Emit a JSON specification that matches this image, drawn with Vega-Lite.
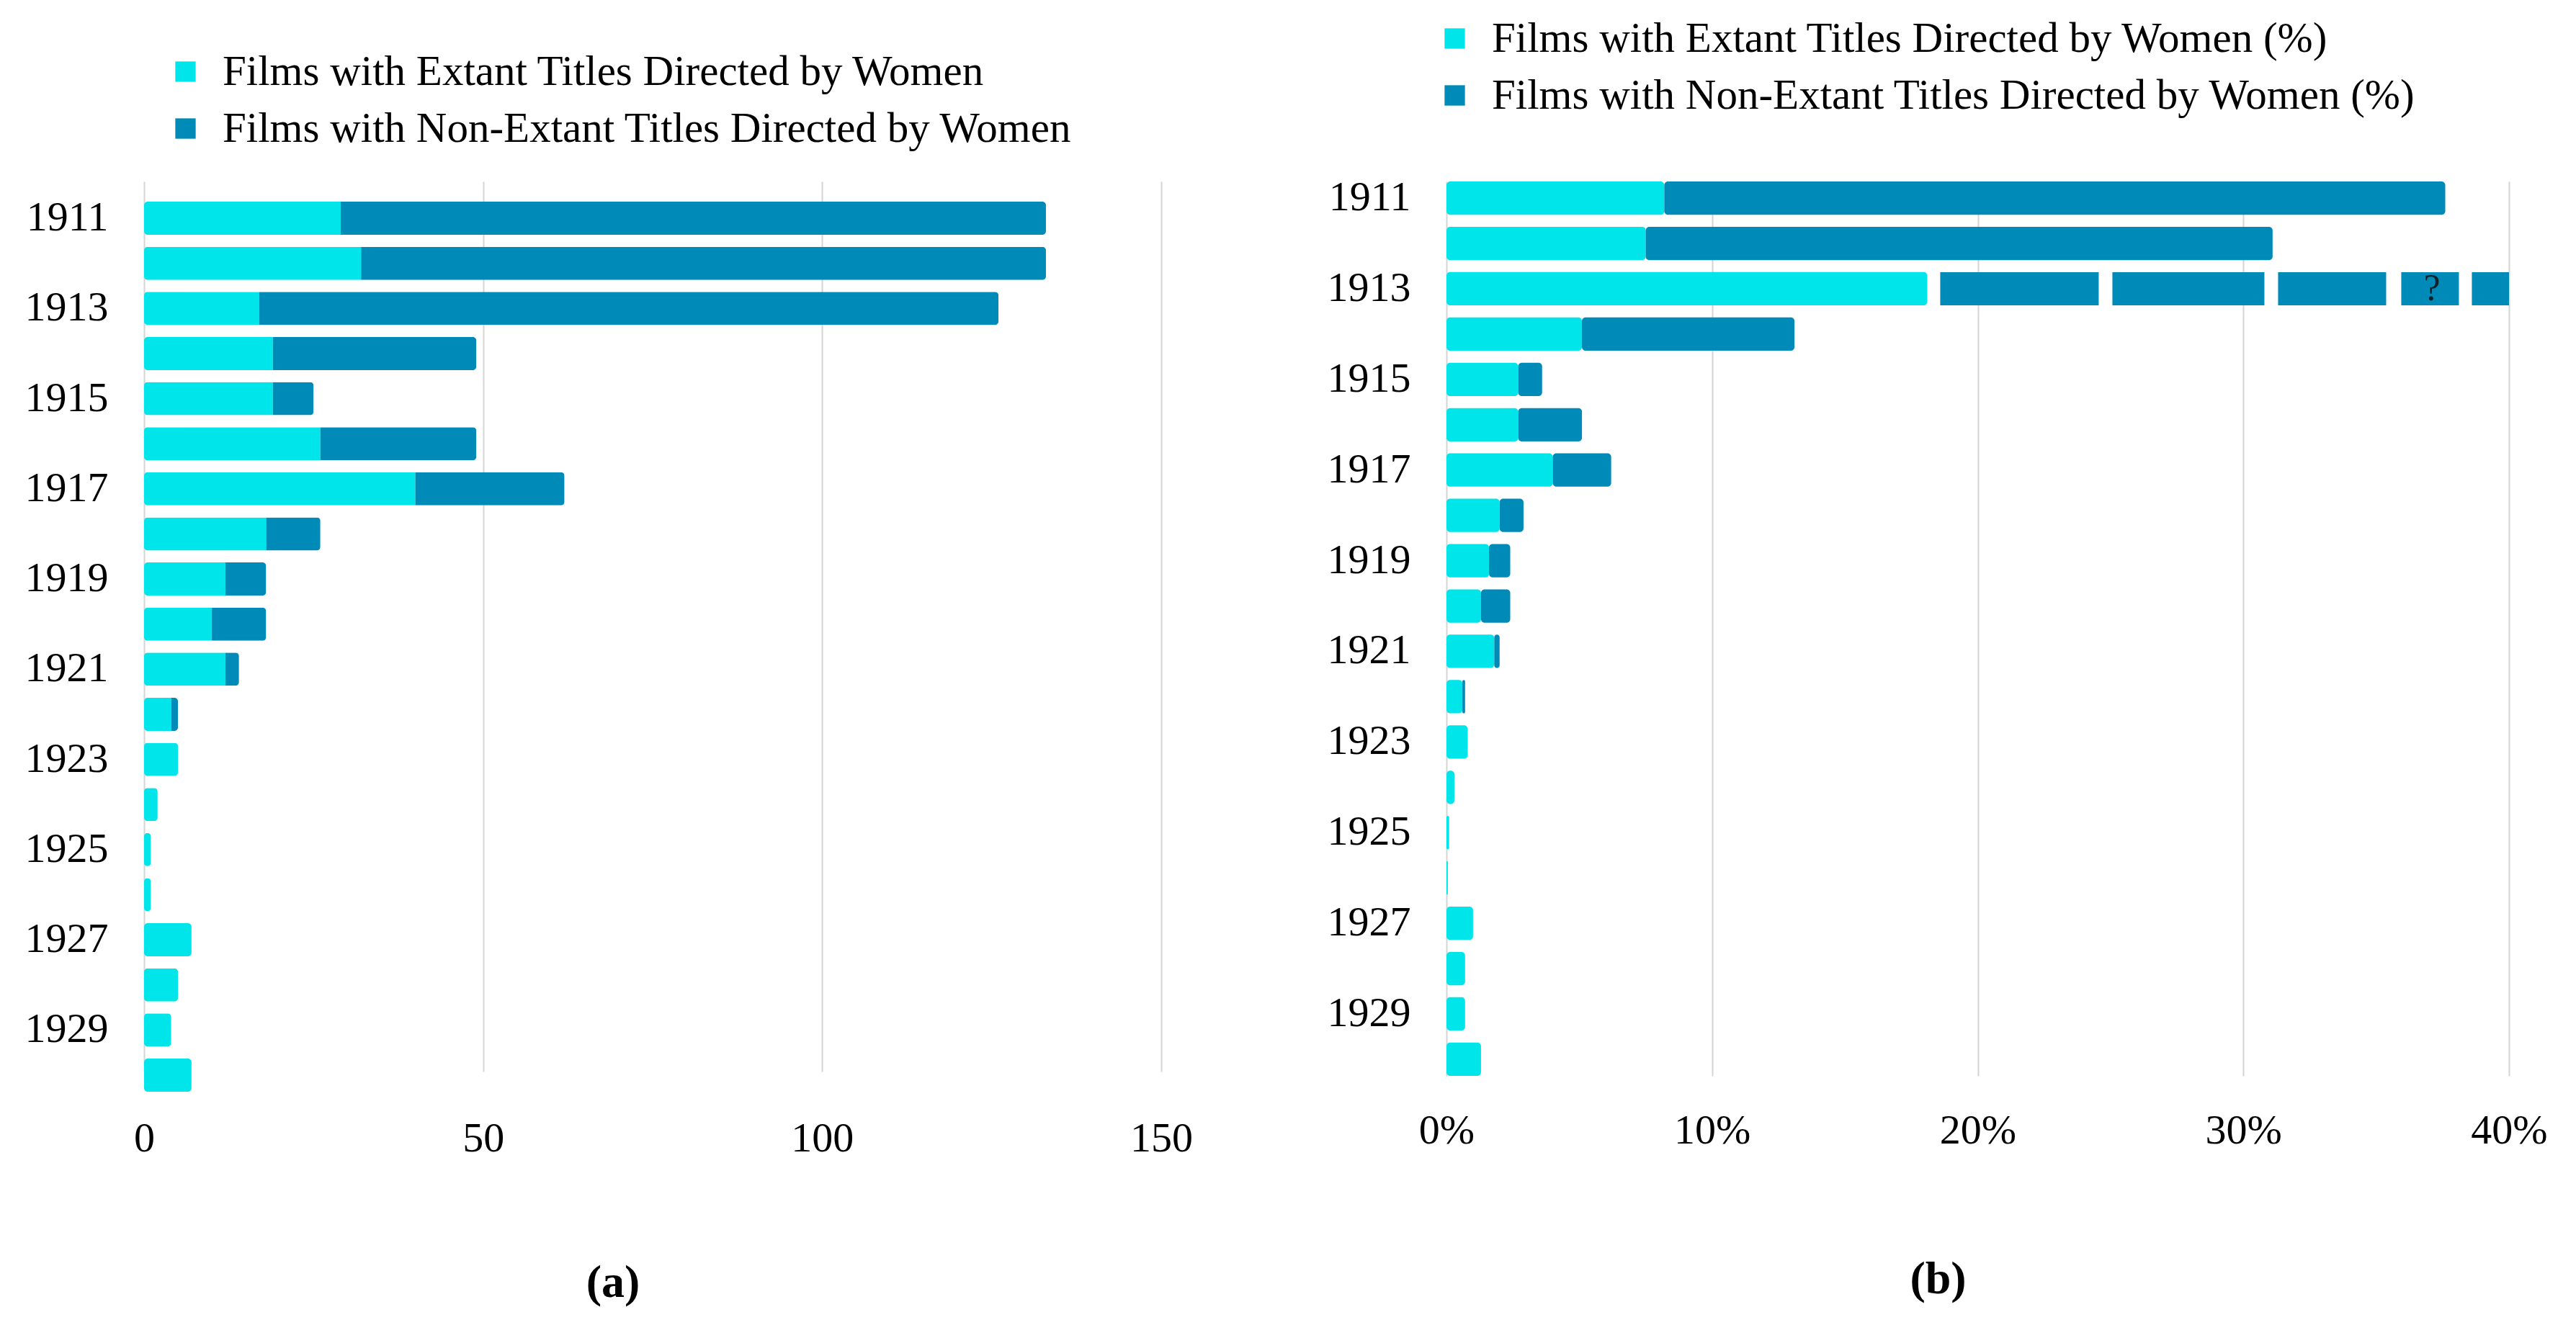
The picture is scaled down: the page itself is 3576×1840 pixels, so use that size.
{
  "$schema": "https://vega.github.io/schema/vega-lite/v6.json",
  "background": "white",
  "padding": {"left": 34, "top": 24, "right": 20, "bottom": 10},
  "config": {
    "font": "Liberation Serif",
    "view": {"stroke": null},
    "axis": {"labelFont": "Liberation Serif", "labelFontSize": 58, "labelColor": "#000000", "title": null, "ticks": false, "domain": false, "labelFlush": false},
    "legend": {"labelFont": "Liberation Serif", "labelFontSize": 59, "labelColor": "#000000", "labelLimit": 3000, "symbolType": "square", "symbolSize": 800, "symbolStrokeWidth": 0, "labelOffset": 22, "rowPadding": 19, "title": null, "orient": "none", "direction": "vertical"},
    "title": {"font": "Liberation Serif", "fontSize": 64, "fontWeight": "bold", "color": "#000000", "orient": "bottom", "anchor": "middle"}
  },
  "datasets": {
    "counts": [
      {"year": "1911", "series": "Films with Extant Titles Directed by Women", "value": 29, "order": 1},
      {"year": "1911", "series": "Films with Non-Extant Titles Directed by Women", "value": 104, "order": 2},
      {"year": "1912", "series": "Films with Extant Titles Directed by Women", "value": 32, "order": 1},
      {"year": "1912", "series": "Films with Non-Extant Titles Directed by Women", "value": 101, "order": 2},
      {"year": "1913", "series": "Films with Extant Titles Directed by Women", "value": 17, "order": 1},
      {"year": "1913", "series": "Films with Non-Extant Titles Directed by Women", "value": 109, "order": 2},
      {"year": "1914", "series": "Films with Extant Titles Directed by Women", "value": 19, "order": 1},
      {"year": "1914", "series": "Films with Non-Extant Titles Directed by Women", "value": 30, "order": 2},
      {"year": "1915", "series": "Films with Extant Titles Directed by Women", "value": 19, "order": 1},
      {"year": "1915", "series": "Films with Non-Extant Titles Directed by Women", "value": 6, "order": 2},
      {"year": "1916", "series": "Films with Extant Titles Directed by Women", "value": 26, "order": 1},
      {"year": "1916", "series": "Films with Non-Extant Titles Directed by Women", "value": 23, "order": 2},
      {"year": "1917", "series": "Films with Extant Titles Directed by Women", "value": 40, "order": 1},
      {"year": "1917", "series": "Films with Non-Extant Titles Directed by Women", "value": 22, "order": 2},
      {"year": "1918", "series": "Films with Extant Titles Directed by Women", "value": 18, "order": 1},
      {"year": "1918", "series": "Films with Non-Extant Titles Directed by Women", "value": 8, "order": 2},
      {"year": "1919", "series": "Films with Extant Titles Directed by Women", "value": 12, "order": 1},
      {"year": "1919", "series": "Films with Non-Extant Titles Directed by Women", "value": 6, "order": 2},
      {"year": "1920", "series": "Films with Extant Titles Directed by Women", "value": 10, "order": 1},
      {"year": "1920", "series": "Films with Non-Extant Titles Directed by Women", "value": 8, "order": 2},
      {"year": "1921", "series": "Films with Extant Titles Directed by Women", "value": 12, "order": 1},
      {"year": "1921", "series": "Films with Non-Extant Titles Directed by Women", "value": 2, "order": 2},
      {"year": "1922", "series": "Films with Extant Titles Directed by Women", "value": 4, "order": 1},
      {"year": "1922", "series": "Films with Non-Extant Titles Directed by Women", "value": 1, "order": 2},
      {"year": "1923", "series": "Films with Extant Titles Directed by Women", "value": 5, "order": 1},
      {"year": "1924", "series": "Films with Extant Titles Directed by Women", "value": 2, "order": 1},
      {"year": "1925", "series": "Films with Extant Titles Directed by Women", "value": 1, "order": 1},
      {"year": "1926", "series": "Films with Extant Titles Directed by Women", "value": 1, "order": 1},
      {"year": "1927", "series": "Films with Extant Titles Directed by Women", "value": 7, "order": 1},
      {"year": "1928", "series": "Films with Extant Titles Directed by Women", "value": 5, "order": 1},
      {"year": "1929", "series": "Films with Extant Titles Directed by Women", "value": 4, "order": 1},
      {"year": "1930", "series": "Films with Extant Titles Directed by Women", "value": 7, "order": 1}
    ],
    "pct": [
      {"year": "1911", "series": "Films with Extant Titles Directed by Women (%)", "value": 8.2, "order": 1, "broken": false},
      {"year": "1911", "series": "Films with Non-Extant Titles Directed by Women (%)", "value": 29.4, "order": 2, "broken": false},
      {"year": "1912", "series": "Films with Extant Titles Directed by Women (%)", "value": 7.5, "order": 1, "broken": false},
      {"year": "1912", "series": "Films with Non-Extant Titles Directed by Women (%)", "value": 23.6, "order": 2, "broken": false},
      {"year": "1913", "series": "Films with Extant Titles Directed by Women (%)", "value": 18.1, "order": 1, "broken": false},
      {"year": "1913", "series": "Films with Non-Extant Titles Directed by Women (%)", "value": 21.9, "order": 2, "broken": true},
      {"year": "1914", "series": "Films with Extant Titles Directed by Women (%)", "value": 5.1, "order": 1, "broken": false},
      {"year": "1914", "series": "Films with Non-Extant Titles Directed by Women (%)", "value": 8.0, "order": 2, "broken": false},
      {"year": "1915", "series": "Films with Extant Titles Directed by Women (%)", "value": 2.7, "order": 1, "broken": false},
      {"year": "1915", "series": "Films with Non-Extant Titles Directed by Women (%)", "value": 0.9, "order": 2, "broken": false},
      {"year": "1916", "series": "Films with Extant Titles Directed by Women (%)", "value": 2.7, "order": 1, "broken": false},
      {"year": "1916", "series": "Films with Non-Extant Titles Directed by Women (%)", "value": 2.4, "order": 2, "broken": false},
      {"year": "1917", "series": "Films with Extant Titles Directed by Women (%)", "value": 4.0, "order": 1, "broken": false},
      {"year": "1917", "series": "Films with Non-Extant Titles Directed by Women (%)", "value": 2.2, "order": 2, "broken": false},
      {"year": "1918", "series": "Films with Extant Titles Directed by Women (%)", "value": 2.0, "order": 1, "broken": false},
      {"year": "1918", "series": "Films with Non-Extant Titles Directed by Women (%)", "value": 0.9, "order": 2, "broken": false},
      {"year": "1919", "series": "Films with Extant Titles Directed by Women (%)", "value": 1.6, "order": 1, "broken": false},
      {"year": "1919", "series": "Films with Non-Extant Titles Directed by Women (%)", "value": 0.8, "order": 2, "broken": false},
      {"year": "1920", "series": "Films with Extant Titles Directed by Women (%)", "value": 1.3, "order": 1, "broken": false},
      {"year": "1920", "series": "Films with Non-Extant Titles Directed by Women (%)", "value": 1.1, "order": 2, "broken": false},
      {"year": "1921", "series": "Films with Extant Titles Directed by Women (%)", "value": 1.8, "order": 1, "broken": false},
      {"year": "1921", "series": "Films with Non-Extant Titles Directed by Women (%)", "value": 0.2, "order": 2, "broken": false},
      {"year": "1922", "series": "Films with Extant Titles Directed by Women (%)", "value": 0.6, "order": 1, "broken": false},
      {"year": "1922", "series": "Films with Non-Extant Titles Directed by Women (%)", "value": 0.1, "order": 2, "broken": false},
      {"year": "1923", "series": "Films with Extant Titles Directed by Women (%)", "value": 0.8, "order": 1, "broken": false},
      {"year": "1924", "series": "Films with Extant Titles Directed by Women (%)", "value": 0.3, "order": 1, "broken": false},
      {"year": "1925", "series": "Films with Extant Titles Directed by Women (%)", "value": 0.1, "order": 1, "broken": false},
      {"year": "1926", "series": "Films with Extant Titles Directed by Women (%)", "value": 0.05, "order": 1, "broken": false},
      {"year": "1927", "series": "Films with Extant Titles Directed by Women (%)", "value": 1.0, "order": 1, "broken": false},
      {"year": "1928", "series": "Films with Extant Titles Directed by Women (%)", "value": 0.7, "order": 1, "broken": false},
      {"year": "1929", "series": "Films with Extant Titles Directed by Women (%)", "value": 0.7, "order": 1, "broken": false},
      {"year": "1930", "series": "Films with Extant Titles Directed by Women (%)", "value": 1.3, "order": 1, "broken": false}
    ],
    "notes": [
      {"year": "1913", "label": "?", "pos": 37.1}
    ]
  },
  "resolve": {"scale": {"color": "independent", "x": "independent", "y": "independent"}, "legend": {"color": "independent"}},
  "spacing": 186,
  "hconcat": [
    {
      "width": 1412,
      "height": 1264,
      "data": {"name": "counts"},
      "title": {"text": "(a)", "offset": 140, "dx": -55},
      "mark": {"type": "bar", "cornerRadius": 5},
      "encoding": {
        "y": {"field": "year", "type": "ordinal", "sort": "ascending",
              "scale": {"range": [28, 1264], "paddingInner": 0.265, "paddingOuter": 0},
              "axis": {"values": ["1911","1913","1915","1917","1919","1921","1923","1925","1927","1929"], "labelPadding": 50, "grid": false}},
        "x": {"field": "value", "type": "quantitative", "stack": "zero",
              "scale": {"domain": [0, 150], "nice": false},
              "axis": {"values": [0, 50, 100, 150], "grid": true, "gridColor": "#d4d4d4", "gridWidth": 2, "labelPadding": 36}},
        "color": {"field": "series", "type": "nominal",
                  "scale": {"domain": ["Films with Extant Titles Directed by Women", "Films with Non-Extant Titles Directed by Women"], "range": ["#00E5EA", "#008AB8"]},
                  "legend": {"legendX": 28, "legendY": -182}},
        "order": {"field": "order", "type": "quantitative"}
      }
    },
    {
      "width": 1475,
      "height": 1242,
      "title": {"text": "(b)", "offset": 146, "dx": -55},
      "encoding": {
        "y": {"field": "year", "type": "ordinal", "sort": "ascending",
              "scale": {"paddingInner": 0.265, "paddingOuter": 0},
              "axis": {"values": ["1911","1913","1915","1917","1919","1921","1923","1925","1927","1929"], "labelPadding": 50, "grid": false}}
      },
      "layer": [
        {
          "data": {"name": "pct"},
          "transform": [
            {"stack": "value", "groupby": ["year"], "sort": [{"field": "order", "order": "ascending"}], "as": ["v0", "v1"]},
            {"filter": "!datum.broken"}
          ],
          "mark": {"type": "bar", "cornerRadius": 5},
          "encoding": {
            "x": {"field": "v0", "type": "quantitative",
                  "scale": {"domain": [0, 40], "nice": false},
                  "axis": {"values": [0, 10, 20, 30, 40], "labelExpr": "datum.value + '%'", "grid": true, "gridColor": "#d4d4d4", "gridWidth": 2, "labelPadding": 47}},
            "x2": {"field": "v1"},
            "color": {"field": "series", "type": "nominal",
                      "scale": {"domain": ["Films with Extant Titles Directed by Women (%)", "Films with Non-Extant Titles Directed by Women (%)"], "range": ["#00E5EA", "#008AB8"]},
                      "legend": {"legendX": -18, "legendY": -228}}
          }
        },
        {
          "data": {"name": "pct"},
          "transform": [
            {"stack": "value", "groupby": ["year"], "sort": [{"field": "order", "order": "ascending"}], "as": ["v0", "v1"]},
            {"filter": "datum.broken"}
          ],
          "mark": {"type": "rule", "strokeWidth": 46, "strokeCap": "butt", "strokeDash": [0, 18, 220, 19, 211, 19, 150, 21, 80, 18, 80, 0]},
          "encoding": {
            "x": {"field": "v0", "type": "quantitative"},
            "x2": {"field": "v1"},
            "color": {"field": "series", "type": "nominal"}
          }
        },
        {
          "data": {"name": "notes"},
          "mark": {"type": "text", "fontSize": 52, "color": "#10202a", "font": "Liberation Serif"},
          "encoding": {
            "x": {"field": "pos", "type": "quantitative"},
            "text": {"field": "label"}
          }
        }
      ]
    }
  ]
}
